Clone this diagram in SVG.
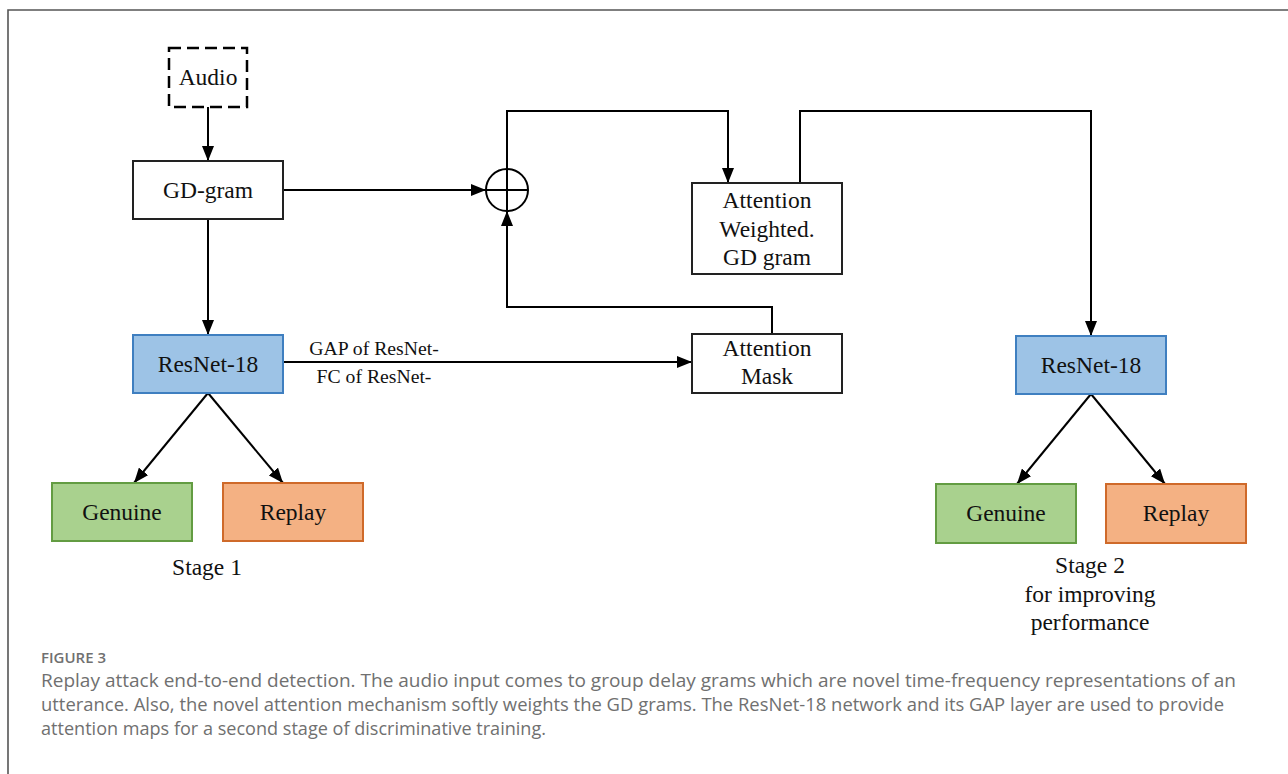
<svg xmlns="http://www.w3.org/2000/svg" width="1288" height="774" viewBox="0 0 1288 774">
  <style>
    .lbl { font-family: "Liberation Serif", "Times New Roman", serif; font-size: 23.5px; fill: #111; text-anchor: middle; }
    .small { font-family: "Liberation Serif", "Times New Roman", serif; font-size: 19.7px; fill: #111; text-anchor: middle; }
    .box { fill: #fff; stroke: #222; stroke-width: 2; }
    .blue { fill: #9dc3e6; stroke: #3f7fc0; stroke-width: 2; }
    .green { fill: #a9d18e; stroke: #639c42; stroke-width: 2; }
    .orange { fill: #f4b183; stroke: #cf6a2a; stroke-width: 2; }
    .wire { fill: none; stroke: #000; stroke-width: 2; }
    .cap { font-family: "Open Sans", "Noto Sans", sans-serif; fill: #707070; }
  </style>
  <defs>
    <marker id="arrow" markerUnits="userSpaceOnUse" markerWidth="16" markerHeight="12" refX="15" refY="6" orient="auto">
      <path d="M0,0 L15,6 L0,12 z" fill="#000"/>
    </marker>
  </defs>

  <rect width="1288" height="774" fill="#fff"/>
  <!-- frame -->
  <path d="M8,774 V10 H1288" fill="none" stroke="#555" stroke-width="1.6"/>

  <!-- connectors -->
  <g id="connectors">
    <path class="wire" d="M208,107 V161" marker-end="url(#arrow)"/>
    <path class="wire" d="M283,190 H486" marker-end="url(#arrow)"/>
    <path class="wire" d="M208,219 V335" marker-end="url(#arrow)"/>
    <path class="wire" d="M507,169 V111 H728 V183" marker-end="url(#arrow)"/>
    <path class="wire" d="M772,334 V307 H507 V211" marker-end="url(#arrow)"/>
    <path class="wire" d="M283,362 H692" marker-end="url(#arrow)"/>
    <path class="wire" d="M800,183 V111 H1091 V336" marker-end="url(#arrow)"/>
    <path class="wire" d="M208,393 L134,483" marker-end="url(#arrow)"/>
    <path class="wire" d="M208,393 L283,483" marker-end="url(#arrow)"/>
    <path class="wire" d="M1091,394 L1017,484" marker-end="url(#arrow)"/>
    <path class="wire" d="M1091,394 L1165,484" marker-end="url(#arrow)"/>
    <text class="small" x="374" y="355">GAP of ResNet-</text>
    <text class="small" x="374" y="383">FC of ResNet-</text>
  </g>

  <g id="audio">
    <rect x="169" y="48" width="78" height="59" fill="#fff" stroke="#000" stroke-width="2.5" stroke-dasharray="12 6"/>
    <text class="lbl" x="208" y="85">Audio</text>
  </g>

  <g id="gdgram">
    <rect class="box" x="133" y="161" width="150" height="58"/>
    <text class="lbl" x="208" y="198">GD-gram</text>
  </g>

  <g id="sum">
    <circle cx="507" cy="190" r="21" fill="#fff" stroke="#000" stroke-width="2"/>
    <path d="M486,190 H528 M507,169 V211" stroke="#000" stroke-width="2"/>
  </g>

  <g id="weighted">
    <rect class="box" x="692" y="183" width="150" height="91"/>
    <text class="lbl" x="767" y="208">Attention</text>
    <text class="lbl" x="767" y="237">Weighted.</text>
    <text class="lbl" x="767" y="265">GD gram</text>
  </g>

  <g id="mask">
    <rect class="box" x="692" y="334" width="150" height="59"/>
    <text class="lbl" x="767" y="356">Attention</text>
    <text class="lbl" x="767" y="384">Mask</text>
  </g>

  <g id="resnet1">
    <rect class="blue" x="133" y="335" width="150" height="58"/>
    <text class="lbl" x="208" y="372">ResNet-18</text>
  </g>

  <g id="genuine1">
    <rect class="green" x="52" y="483" width="140" height="58"/>
    <text class="lbl" x="122" y="520">Genuine</text>
  </g>

  <g id="replay1">
    <rect class="orange" x="223" y="483" width="140" height="58"/>
    <text class="lbl" x="293" y="520">Replay</text>
  </g>

  <text class="lbl" x="207" y="575">Stage 1</text>

  <g id="resnet2">
    <rect class="blue" x="1016" y="336" width="150" height="58"/>
    <text class="lbl" x="1091" y="373">ResNet-18</text>
  </g>

  <g id="genuine2">
    <rect class="green" x="936" y="484" width="140" height="59"/>
    <text class="lbl" x="1006" y="521">Genuine</text>
  </g>

  <g id="replay2">
    <rect class="orange" x="1106" y="484" width="140" height="59"/>
    <text class="lbl" x="1176" y="521">Replay</text>
  </g>

  <g id="stage2">
    <text class="lbl" x="1090" y="573">Stage 2</text>
    <text class="lbl" x="1090" y="602">for improving</text>
    <text class="lbl" x="1090" y="630">performance</text>
  </g>

  <!-- caption -->
  <text class="cap" x="41" y="663" font-size="15" font-weight="600" fill="#5a5a5a">FIGURE 3</text>
  <text class="cap" x="41" y="687" font-size="19" textLength="1195" lengthAdjust="spacingAndGlyphs">Replay attack end-to-end detection. The audio input comes to group delay grams which are novel time-frequency representations of an</text>
  <text class="cap" x="41" y="711" font-size="19" textLength="1183" lengthAdjust="spacingAndGlyphs">utterance. Also, the novel attention mechanism softly weights the GD grams. The ResNet-18 network and its GAP layer are used to provide</text>
  <text class="cap" x="41" y="735" font-size="19" textLength="505" lengthAdjust="spacingAndGlyphs">attention maps for a second stage of discriminative training.</text>
</svg>
